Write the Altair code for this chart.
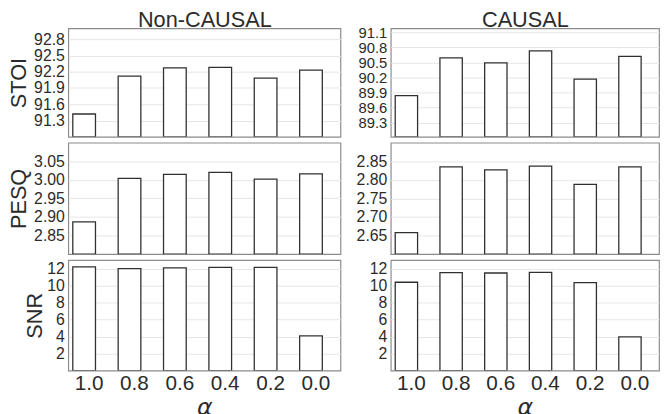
import altair as alt
import pandas as pd

alphas = ["1.0", "0.8", "0.6", "0.4", "0.2", "0.0"]
stoi_nc = [91.42, 92.12, 92.27, 92.28, 92.08, 92.23]
stoi_c = [89.84, 90.59, 90.49, 90.73, 90.17, 90.62]
pesq_nc = [2.887, 3.004, 3.015, 3.020, 3.002, 3.016]
pesq_c = [2.658, 2.835, 2.827, 2.837, 2.788, 2.835]
snr_nc = [12.2, 12.0, 12.08, 12.15, 12.15, 4.07]
snr_c = [10.39, 11.52, 11.48, 11.55, 10.35, 3.95]

stoi_nc_ticks = [91.3, 91.6, 91.9, 92.2, 92.5, 92.8]
stoi_c_ticks = [89.3, 89.6, 89.9, 90.2, 90.5, 90.8, 91.1]
pesq_nc_ticks = [2.85, 2.90, 2.95, 3.00, 3.05]
pesq_c_ticks = [2.65, 2.70, 2.75, 2.80, 2.85]
snr_ticks = [2, 4, 6, 8, 10, 12]

col_titles = ["Non-CAUSAL", "CAUSAL"]
row_titles = ["STOI", "PESQ", "SNR"]

TEXT = "#2b2b2b"
FONT = "Liberation Sans"

rows = [
    dict(name="STOI", vals=(stoi_nc, stoi_c), dom=([91.0, 93.0], [89.02, 91.18]),
         ticks=(stoi_nc_ticks, stoi_c_ticks), fmt=".1f", h=110, tx=-43.1,
         lfs=(16, 15)),
    dict(name="PESQ", vals=(pesq_nc, pesq_c), dom=([2.8, 3.1], [2.6, 2.9]),
         ticks=(pesq_nc_ticks, pesq_c_ticks), fmt=".2f", h=113, tx=-43.1,
         lfs=(16, 16)),
    dict(name="SNR", vals=(snr_nc, snr_c), dom=([0, 13], [0, 13]),
         ticks=(snr_ticks, snr_ticks), fmt="d", h=112, tx=-27,
         lfs=(16, 16)),
]
widths = [276, 272]

panels = []
for ri, r in enumerate(rows):
    for ci in range(2):
        df = pd.DataFrame({"alpha": alphas, "value": r["vals"][ci]})
        lo, hi = r["dom"][ci]
        yaxis_kw = dict(values=r["ticks"][ci], format=r["fmt"], grid=True,
                        gridColor="#e6e6e6", gridWidth=1, labelFontSize=r["lfs"][ci],
                        labelPadding=4, labelColor=TEXT, labelFont=FONT,
                        labelOverlap=False, labelFlush=False,
                        domain=False, ticks=False, tickSize=0)
        if ci == 0:
            yaxis_kw.update(title=r["name"], titleFontSize=22, titleFont=FONT,
                            titleFontWeight="normal", titleColor=TEXT,
                            titleBaseline="alphabetic", titleX=r["tx"])
        else:
            yaxis_kw.update(title=None)
        xscale = alt.Scale(paddingInner=0.5, paddingOuter=0.25, align=0.2)
        if ri == 2:
            xaxis = alt.Axis(title="α", titleFont="DejaVu Sans",
                             titleFontStyle="italic", titleFontSize=24,
                             titleFontWeight="normal", titleColor=TEXT,
                             titlePadding=2, labelFontSize=21,
                             labelFont=FONT, labelColor=TEXT,
                             labelAngle=0, labelOffset=5, labelPadding=2.5,
                             grid=False, ticks=False, tickSize=0,
                             domain=False)
        elif ri == 0:
            xaxis = alt.Axis(orient="top", labels=False, grid=False, ticks=False,
                             tickSize=0, domain=False, title=col_titles[ci],
                             titleFontSize=22, titleFont=FONT,
                             titleFontWeight="normal", titleColor=TEXT,
                             titleBaseline="alphabetic", titleY=-1.5,
                             titleX=widths[ci] / 2, titleAlign="center")
        if ri == 1:
            xenc = alt.X("alpha:N", sort=alphas, scale=xscale, axis=None)
        else:
            xenc = alt.X("alpha:N", sort=alphas, scale=xscale, axis=xaxis)
        ch = alt.Chart(df).mark_bar(fill="white", stroke="#303030",
                                    strokeWidth=1.3, clip=True).encode(
            x=xenc,
            y=alt.Y("value:Q", scale=alt.Scale(domain=[lo, hi], nice=False, zero=False),
                    axis=alt.Axis(**yaxis_kw)),
            y2=alt.datum(lo),
        )
        panels.append(ch.properties(width=widths[ci], height=r["h"]))

chart = alt.concat(*panels, columns=2, spacing={"row": 6, "column": 51},
                   bounds="flush", align="each").properties(
    padding={"left": -0.9, "top": -3.3, "right": 0, "bottom": 0}
).configure_view(stroke="#8c8c8c", strokeWidth=1.2)

chart.save("out.html", embed_options={"renderer": "svg", "actions": False})
